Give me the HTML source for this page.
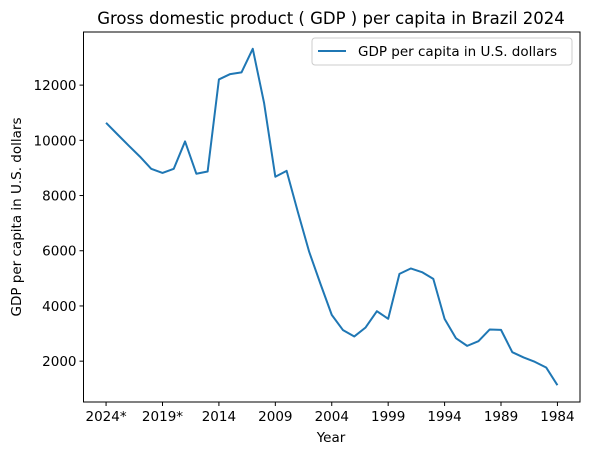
<!DOCTYPE html>
<html><head><meta charset="utf-8"><style>
body{margin:0;background:#fff;font-family:"DejaVu Sans","Liberation Sans",sans-serif;}
svg text{font-family:"DejaVu Sans","Liberation Sans",sans-serif;fill:#000;}
</style></head><body>
<svg id="chart" width="589" height="455" xmlns="http://www.w3.org/2000/svg">
<rect width="589" height="455" fill="#fff"/>
<text x="331" y="24" font-size="16.5" text-anchor="middle">Gross domestic product ( GDP ) per capita in Brazil 2024</text>
<g id="plot"></g>
<text x="331" y="442" font-size="13.5" text-anchor="middle">Year</text>
<text x="21" y="217" font-size="13.5" text-anchor="middle" transform="rotate(-90 21 217)">GDP per capita in U.S. dollars</text>
<g>
<rect x="312" y="38" width="260" height="27" rx="3" fill="#fff" stroke="#ccc"/>
<line x1="318" y1="51" x2="346" y2="51" stroke="#1f77b4" stroke-width="2"/>
<text x="358" y="56" font-size="13.5">GDP per capita in U.S. dollars</text>
</g>
</svg>
<script>
const years = [2024,2023,2022,2021,2020,2019,2018,2017,2016,2015,2014,2013,2012,2011,2010,2009,2008,2007,2006,2005,2004,2003,2002,2001,2000,1999,1998,1997,1996,1995,1994,1993,1992,1991,1990,1989,1988,1987,1986,1985,1984];
const gdp = [10635,10220,9810,9410,8970,8820,8970,9960,8790,8870,12205,12400,12460,13315,11360,8680,8895,7400,5960,4800,3677,3123,2895,3220,3812,3533,5163,5358,5225,4982,3533,2833,2554,2725,3148,3134,2326,2134,1975,1772,1130];
const xTickYears = [2024,2019,2014,2009,2004,1999,1994,1989,1984];
const xTickLabels = ["2024*","2019*","2014","2009","2004","1999","1994","1989","1984"];
const yTicks = [2000,4000,6000,8000,10000,12000];

const L=83.5, R=580, T=32, B=402;
const n = years.length;
const xStep = (R-L)/(n-1+4);
const x = y => L + (2 + (years[0]-y))*xStep;
const mn = Math.min(...gdp), mx = Math.max(...gdp), pad=(mx-mn)*0.05;
const y0 = mn-pad, y1 = mx+pad;
const yS = v => B - (v-y0)/(y1-y0)*(B-T);
const ns="http://www.w3.org/2000/svg";
const g=document.getElementById('plot');
function mk(t,a){const e=document.createElementNS(ns,t);for(const k in a)e.setAttribute(k,a[k]);g.appendChild(e);return e;}
yTicks.forEach(v=>{
  const yy=yS(v);
  const tk=mk('line',{x1:L-4,x2:L,y1:yy,y2:yy,stroke:'#000'});
  
  
  const t=mk('text',{x:L-7,y:yy+5,'font-size':13.5,'text-anchor':'end'});
  t.textContent=v;
  
  
});
xTickYears.forEach((yr,i)=>{
  const xx=x(yr);
  const tk=mk('line',{x1:xx,x2:xx,y1:B,y2:B+4,stroke:'#000'});
  
  
  const t=mk('text',{x:xx,y:B+19,'font-size':13.5,'text-anchor':'middle'});
  t.textContent=xTickLabels[i];
  
  
});
const p=mk('polyline',{points:years.map((yr,i)=>x(yr)+','+yS(gdp[i])).join(' '),fill:'none',stroke:'#1f77b4','stroke-width':2,'stroke-linejoin':'round'});


const fr=mk('rect',{x:L,y:T,width:R-L,height:B-T,fill:'none',stroke:'#000','stroke-width':1});


</script>
</body></html>
